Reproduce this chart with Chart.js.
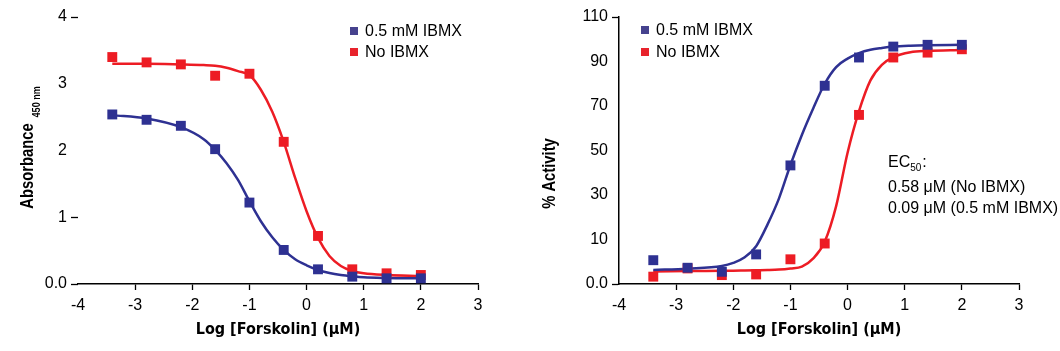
<!DOCTYPE html>
<html><head><meta charset="utf-8">
<script src="https://cdn.jsdelivr.net/npm/chart.js@4.4.1/dist/chart.umd.min.js"></script>
<style>
html,body{margin:0;padding:0;background:#fff;}
#wrap{position:relative;width:1060px;height:351px;overflow:hidden;}
.box{position:absolute;top:0;}
</style></head><body>
<div id="wrap">
  <div class="box" style="left:0;width:520px;height:351px"><canvas id="c1" width="520" height="351"></canvas></div>
  <div class="box" style="left:520px;width:540px;height:351px"><canvas id="c2" width="540" height="351"></canvas></div>
</div>
<script>
// ---------------- data ----------------
const seriesNames = ['0.5 mM IBMX', 'No IBMX'];
const doses = [-3.4, -2.8, -2.2, -1.6, -1.0, -0.4, 0.2, 0.8, 1.4, 2.0];

// Left panel: Absorbance 450 nm
const absIbmx   = [2.54, 2.46, 2.37, 2.02, 1.22, 0.51, 0.22, 0.11, 0.085, 0.085];
const absNoIbmx = [3.40, 3.32, 3.29, 3.12, 3.15, 2.13, 0.72, 0.22, 0.16, 0.135];
const fitDosesAbs   = [-3.4, -2.8, -2.2, -1.8, -1.6, -1.4, -1.2, -1.0, -0.8, -0.6, -0.4, -0.2, 0.0, 0.2, 0.4, 0.6, 0.8, 1.0, 1.4, 2.0];
const fitAbsIbmx    = [2.53, 2.48, 2.35, 2.17, 2.01, 1.81, 1.56, 1.24, 0.94, 0.70, 0.51, 0.37, 0.28, 0.21, 0.165, 0.135, 0.115, 0.10, 0.09, 0.085];
const fitAbsNoIbmx  = [3.30, 3.30, 3.29, 3.28, 3.27, 3.24, 3.19, 3.13, 2.91, 2.58, 2.13, 1.59, 1.09, 0.69, 0.42, 0.27, 0.195, 0.16, 0.135, 0.12];

// Right panel: % Activity (axis bottom tick labelled "0.0")
const actIbmx   = [0.7, -2.7, -4.5, 3.3, 43.3, 79.1, 91.8, 96.7, 97.5, 97.5];
const actNoIbmx = [-6.7, -3.0, -6.0, -5.7, 1.1, 8.2, 66.0, 91.8, 94.0, 95.5];
const fitDosesAct  = [-3.4, -2.8, -2.2, -2.0, -1.8, -1.6, -1.4, -1.2, -1.0, -0.8, -0.6, -0.4, -0.2, 0.0, 0.2, 0.4, 0.6, 0.8, 1.1, 1.4, 2.0];
const fitActIbmx   = [-3.7, -3.1, -1.9, -0.5, 2.0, 7.0, 16.8, 28.5, 43.5, 57.0, 69.0, 80.0, 87.5, 91.3, 93.8, 95.3, 96.1, 96.7, 97.1, 97.3, 97.5];
const fitActNoIbmx = [-4.4, -4.2, -4.0, -4.0, -3.9, -3.8, -3.7, -3.5, -3.0, -2.2, 1.5, 9.0, 25.0, 49.0, 67.7, 81.5, 88.5, 92.0, 94.2, 94.8, 95.2];

const xTicks = [-4, -3, -2, -1, 0, 1, 2, 3];
const absTicks = [0, 1, 2, 3, 4];
const absTickLabels = ['0.0', '1', '2', '3', '4'];
const absMarkedTicks = [0, 1, 4];
const actTicks = [-10, 10, 30, 50, 70, 90, 110];
const actTickLabels = ['0.0', '10', '30', '50', '70', '90', '110'];
const actMarkedTicks = [-10, 110];
const ec50Lines = ['0.58 μM (No IBMX)', '0.09 μM (0.5 mM IBMX)'];

// ---------------- style ----------------
const BLUE = '#2e3192', RED = '#ed1c24';
const LEG_BLUE = '#46428e', LEG_RED = '#e8232c';
const REG = "'Liberation Sans', Arial, sans-serif";
const COND = "'DejaVu Sans Condensed', 'Liberation Sans', sans-serif";

function pts(xs, ys) { return xs.map((x, i) => ({x: x, y: ys[i]})); }

function overlay(opts) {
  return {
    id: 'overlay',
    afterDraw(chart) {
      const ctx = chart.ctx, ca = chart.chartArea;
      ctx.save();
      // legend
      const L = opts.legend;
      const cols = [LEG_BLUE, LEG_RED];
      seriesNames.forEach((n, i) => {
        const cy = L.y + i * L.dy;
        ctx.fillStyle = cols[i];
        ctx.fillRect(L.x - 4, cy - 4, 8, 8);
        ctx.fillStyle = '#000';
        ctx.font = '16px ' + REG;
        ctx.textAlign = 'left';
        ctx.textBaseline = 'middle';
        ctx.fillText(n, L.x + 11, cy + 1);
      });
      // y title (rotated, condensed, with optional subscript)
      const T = opts.ytitle, SX = 0.82;
      ctx.translate(T.x, (ca.top + ca.bottom) / 2);
      ctx.rotate(-Math.PI / 2);
      ctx.fillStyle = '#000';
      ctx.textAlign = 'left';
      ctx.textBaseline = 'alphabetic';
      ctx.font = 'bold 18px ' + REG;
      const mw = ctx.measureText(T.text).width * SX;
      let sw = 0;
      if (T.sub) { ctx.font = 'bold 11px ' + REG; sw = ctx.measureText(T.sub).width * SX + 6; }
      const start = -(mw + sw) / 2 + T.shift;
      ctx.save();
      ctx.translate(start, 0);
      ctx.scale(SX, 1);
      ctx.font = 'bold 18px ' + REG;
      ctx.fillText(T.text, 0, 0);
      ctx.restore();
      if (T.sub) {
        ctx.save();
        ctx.translate(start + mw + 6, 7);
        ctx.scale(SX, 1);
        ctx.font = 'bold 11px ' + REG;
        ctx.fillText(T.sub, 0, 0);
        ctx.restore();
      }
      ctx.restore();
      // EC50 note
      if (opts.note) {
        const N = opts.note;
        ctx.save();
        ctx.fillStyle = '#000';
        ctx.textAlign = 'left';
        ctx.textBaseline = 'alphabetic';
        ctx.font = '16px ' + REG;
        ctx.fillText('EC', N.x, N.y);
        const ew = ctx.measureText('EC').width;
        ctx.font = '10px ' + REG;
        ctx.fillText('50', N.x + ew, N.y + 4);
        const sw2 = ctx.measureText('50').width;
        ctx.font = '16px ' + REG;
        ctx.fillText(':', N.x + ew + sw2 + 1, N.y);
        ec50Lines.forEach((t, i) => ctx.fillText(t, N.x, N.y + 25 + i * 21));
        ctx.restore();
      }
    }
  };
}

function makeChart(id, c) {
  return new Chart(document.getElementById(id), {
    type: 'scatter',
    data: {
      datasets: [
        {label: seriesNames[0], data: pts(doses, c.ibmx), pointStyle: 'rect', pointRadius: 7, pointHoverRadius: 7, backgroundColor: BLUE, borderWidth: 0, showLine: false},
        {label: seriesNames[1], data: pts(doses, c.no), pointStyle: 'rect', pointRadius: 7, pointHoverRadius: 7, backgroundColor: RED, borderWidth: 0, showLine: false},
        {label: seriesNames[0] + ' fit', data: pts(c.fitX, c.fitIbmx), showLine: true, borderColor: BLUE, borderWidth: 2.5, pointRadius: 0, cubicInterpolationMode: 'monotone', fill: false},
        {label: seriesNames[1] + ' fit', data: pts(c.fitX, c.fitNo), showLine: true, borderColor: RED, borderWidth: 2.5, pointRadius: 0, cubicInterpolationMode: 'monotone', fill: false}
      ]
    },
    options: {
      responsive: false, animation: false, events: [],
      layout: {padding: {left: 0, top: 17, right: c.padRight, bottom: 7}},
      plugins: {legend: {display: false}, tooltip: {enabled: false}},
      scales: {
        x: {
          type: 'linear', min: -4, max: 3,
          afterBuildTicks: s => { s.ticks = xTicks.map(v => ({value: v})); },
          afterFit: s => { s.height = 60; },
          ticks: {color: '#000', font: {family: REG, size: 16}, padding: 6, maxRotation: 0, autoSkip: false, callback: v => String(v)},
          grid: {drawOnChartArea: false, tickLength: 6, tickWidth: 1.3, tickColor: ctx => (ctx.tick && ctx.tick.value === -4) ? 'rgba(0,0,0,0)' : '#000'},
          border: {display: true, color: '#000', width: 1.5},
          title: {display: true, text: 'Log [Forskolin] (μM)', color: '#000', font: {family: COND, size: 16, weight: 'bold'}, padding: {top: 0, bottom: 5}}
        },
        y: {
          type: 'linear', min: c.yMin, max: c.yMax,
          afterBuildTicks: s => { s.ticks = c.yTicks.map(v => ({value: v})); },
          afterFit: s => { s.width = c.yWidth; },
          ticks: {color: '#000', font: {family: REG, size: 16}, padding: 4, autoSkip: false, callback: v => c.yLabels[c.yTicks.indexOf(v)]},
          grid: {drawOnChartArea: false, tickLength: 7, tickWidth: 1.3, tickColor: ctx => (ctx.tick && c.marked.indexOf(ctx.tick.value) >= 0) ? '#000' : 'rgba(0,0,0,0)'},
          border: {display: c.yBorder, color: '#000', width: 1.5}
        }
      }
    },
    plugins: [overlay(c.overlay)]
  });
}

makeChart('c1', {
  ibmx: absIbmx, no: absNoIbmx, fitX: fitDosesAbs, fitIbmx: fitAbsIbmx, fitNo: fitAbsNoIbmx,
  yMin: 0, yMax: 4, yTicks: absTicks, yLabels: absTickLabels, marked: absMarkedTicks,
  yWidth: 78, padRight: 42, yBorder: false,
  overlay: {legend: {x: 354, y: 31, dy: 21}, ytitle: {x: 33, text: 'Absorbance', sub: '450 nm', shift: 3}}
});

makeChart('c2', {
  ibmx: actIbmx, no: actNoIbmx, fitX: fitDosesAct, fitIbmx: fitActIbmx, fitNo: fitActNoIbmx,
  yMin: -10, yMax: 110, yTicks: actTicks, yLabels: actTickLabels, marked: actMarkedTicks,
  yWidth: 99, padRight: 41, yBorder: true,
  overlay: {legend: {x: 125, y: 30, dy: 22}, ytitle: {x: 35, text: '% Activity', sub: null, shift: -23}, note: {x: 368, y: 167}}
});
</script>
</body></html>
